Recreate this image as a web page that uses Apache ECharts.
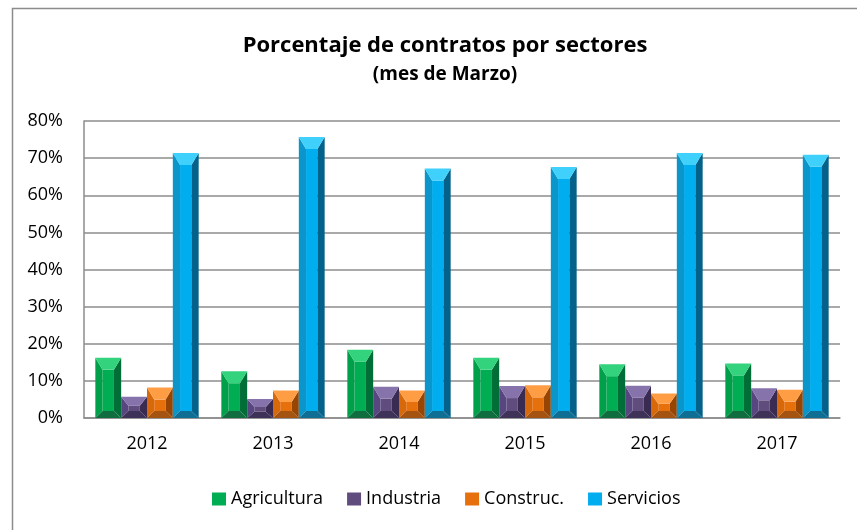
<!DOCTYPE html>
<html lang="es">
<head>
  <meta charset="UTF-8" />
  <title>Porcentaje de contratos por sectores</title>
  <script src="https://cdn.jsdelivr.net/npm/echarts@6/dist/echarts.min.js"></script>
  <style>
    html, body, #main {
      margin: 0; padding: 0; width: 857px; height: 530px;
      background: #ffffff;
    }
  </style>
</head>
<body>
  <div id="main"></div>
  <script>
    const years = ['2012', '2013', '2014', '2015', '2016', '2017'];
    const sectors = ['Agricultura', 'Industria', 'Construc.', 'Servicios'];
    const agricultura = [16.2, 12.6, 18.4, 16.2, 14.5, 14.7];
    const industria = [5.7, 5.1, 8.4, 8.6, 8.7, 8.0];
    const construc = [8.2, 7.4, 7.4, 8.8, 6.6, 7.6];
    const servicios = [71.4, 75.7, 67.2, 67.6, 71.4, 70.9];
    const yTicks = [0, 10, 20, 30, 40, 50, 60, 70, 80];

    // bevel shades per sector: top, left, center, right, bottom
    const shades = [
      ['#33d27c', '#00a04b', '#00ad52', '#006e36', '#0f6d3f'],
      ['#8673ab', '#574680', '#614c7e', '#392b52', '#3e3258'],
      ['#ff9d45', '#d8690b', '#e6700c', '#984503', '#a55310'],
      ['#3fd1fb', '#0a96ca', '#00adee', '#04628a', '#0f6e94']
    ];

    const font = '"Open Sans", "Liberation Sans", sans-serif';
    const chart = echarts.init(document.getElementById('main'), null, { renderer: 'canvas' });

    function renderBevel(params, api) {
      const s = params.seriesIndex;
      const cat = api.value(0);
      const val = api.value(1);
      const band = api.size([1, 0])[0];
      const w = band * 0.82 / 4;
      const pBase = api.coord([cat, 0]);
      const pTop = api.coord([cat, val]);
      const x0 = pBase[0] - band * 0.41 + s * w;
      const x1 = x0 + w;
      const y0 = pTop[1];
      const y1 = pBase[1];
      const h = y1 - y0;
      const bx = w * 0.28;
      const by = Math.min(12, h / 2.4);
      const byb = Math.min(7, h / 3);
      const xm0 = x0 + bx, xm1 = x1 - bx;
      const ym0 = y0 + by, ym1 = y1 - byb;
      const c = shades[s];
      const poly = (pts, fill) => ({ type: 'polygon', shape: { points: pts }, style: { fill: fill } });
      return {
        type: 'group',
        children: [
          { type: 'rect', shape: { x: xm0, y: ym0, width: xm1 - xm0, height: ym1 - ym0 }, style: { fill: c[2] } },
          poly([[x0, y0], [xm0, ym0], [xm0, ym1], [x0, y1]], c[1]),
          poly([[x1, y0], [x1, y1], [xm1, ym1], [xm1, ym0]], c[3]),
          poly([[x0, y0], [x1, y0], [xm1, ym0], [xm0, ym0]], c[0]),
          poly([[x0, y1], [xm0, ym1], [xm1, ym1], [x1, y1]], c[4])
        ]
      };
    }

    const seriesValues = [agricultura, industria, construc, servicios];
    const series = sectors.map((name, i) => ({
      name: name,
      type: 'custom',
      renderItem: renderBevel,
      encode: { x: 0, y: 1 },
      itemStyle: { color: shades[i][2] },
      data: seriesValues[i].map((v, j) => [j, v])
    }));

    chart.setOption({
      animation: false,
      backgroundColor: '#ffffff',
      title: {
        text: 'Porcentaje de contratos por sectores',
        subtext: '(mes de Marzo)',
        left: 440,
        textAlign: 'center',
        top: 30,
        itemGap: 8,
        textStyle: { fontFamily: font, fontSize: 22, fontWeight: 'bold', color: '#000' },
        subtextStyle: { fontFamily: font, fontSize: 19, fontWeight: 'bold', color: '#000' }
      },
      graphic: [{
        type: 'rect',
        left: 10, top: 6,
        shape: { width: 900, height: 600 },
        style: { fill: 'none', stroke: '#8c8c8c', lineWidth: 1.5 },
        z: -1
      }],
      legend: {
        top: 485,
        left: 207,
        itemWidth: 14,
        itemHeight: 13,
        itemGap: 24,
        icon: 'rect',
        textStyle: { fontFamily: font, fontSize: 18, color: '#000' },
        data: sectors
      },
      grid: { left: 84, right: 17, top: 121, bottom: 112 },
      xAxis: {
        type: 'category',
        data: years,
        axisLine: { lineStyle: { color: '#8c8c8c', width: 1.5 } },
        axisTick: { show: false },
        axisLabel: { fontFamily: font, fontSize: 18, color: '#000', margin: 17 }
      },
      yAxis: {
        type: 'value',
        min: 0,
        max: yTicks[yTicks.length - 1],
        interval: 10,
        axisLine: { show: true, lineStyle: { color: '#8c8c8c', width: 1.5 } },
        axisTick: { show: false },
        axisLabel: { fontFamily: font, fontSize: 18, color: '#000', margin: 21, formatter: '{value}%' },
        splitLine: { lineStyle: { color: '#8c8c8c', width: 1.5 } }
      },
      series: series
    });
  </script>
</body>
</html>
